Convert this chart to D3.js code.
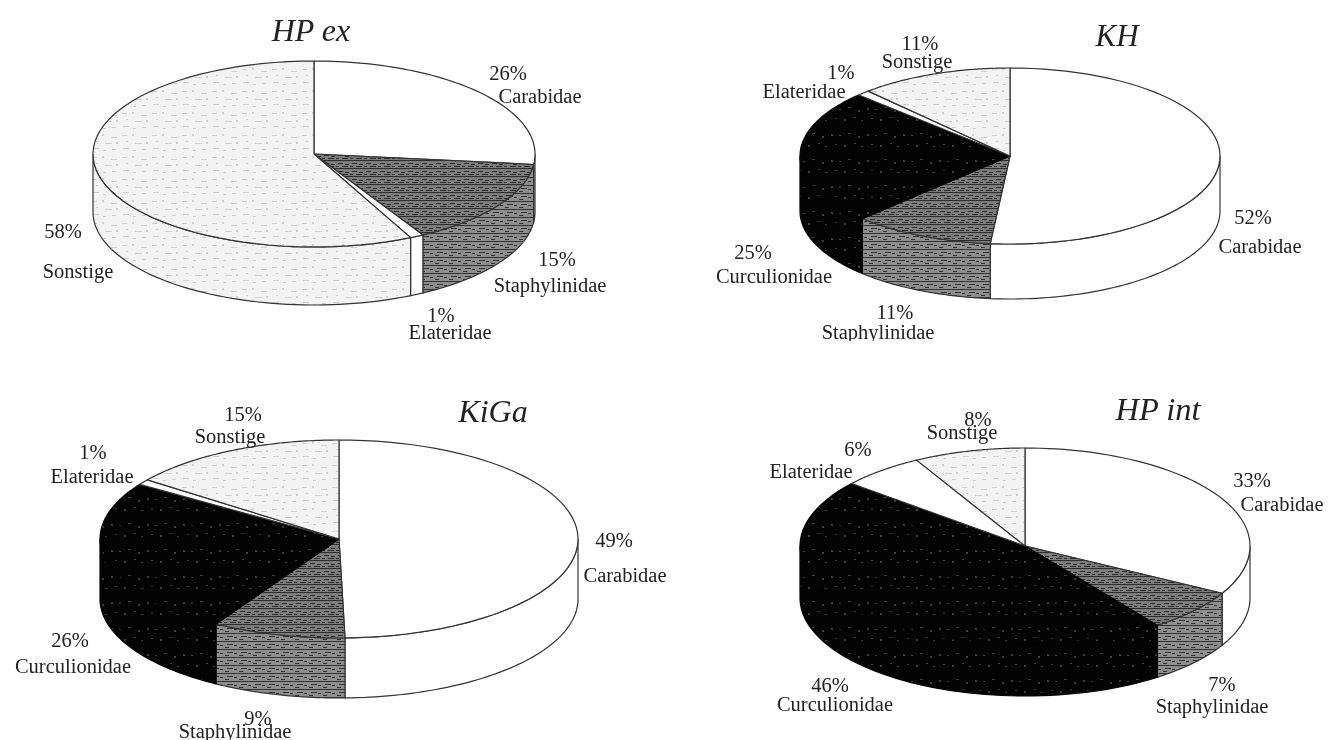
<!DOCTYPE html>
<html><head><meta charset="utf-8">
<script src="https://cdn.jsdelivr.net/npm/d3@7/dist/d3.min.js"></script>
<style>html,body{margin:0;background:#fff}svg{display:block;filter:blur(0.55px)}text{font-family:"Liberation Serif",serif;fill:#222}</style>
</head><body><script>
const hpExCategories=["Carabidae","Staphylinidae","Elateridae","Sonstige"];
const hpExValues=[26,15,1,58];            // printed percentages
const hpExShares=[26.8,15,1,57.2];        // slice sizes as drawn in the picture
const khCategories=["Carabidae","Staphylinidae","Curculionidae","Elateridae","Sonstige"];
const khValues=[52,11,25,1,11];
const khShares=[51.5,10.9,24.8,1,11.8];
const kigaCategories=["Carabidae","Staphylinidae","Curculionidae","Elateridae","Sonstige"];
const kigaValues=[49,9,26,1,15];
const kigaShares=[49.6,9,25.7,0.9,14.8];
const hpIntCategories=["Carabidae","Staphylinidae","Curculionidae","Elateridae","Sonstige"];
const hpIntValues=[33,7,46,6,8];
const hpIntShares=[33,7,46,6,8];

const layouts=[
 {title:"HP ex",cats:hpExCategories,vals:hpExValues,shares:hpExShares,cx:314,cy:154,rx:221,ry:93,d:58,tx:311,ty:41,fs:32,clip:341,
  lab:[[508,80,540,103],[557,266,550,292],[441,322,450,339],[63,238,78,278]]},
 {title:"KH",cats:khCategories,vals:khValues,shares:khShares,cx:1010,cy:156,rx:210,ry:88,d:55,tx:1117,ty:46,fs:31,clip:341,
  lab:[[1253,224,1260,253],[895,319,878,339],[753,259,774,283],[841,79,804,98],[920,50,917,68]]},
 {title:"KiGa",cats:kigaCategories,vals:kigaValues,shares:kigaShares,cx:339,cy:539,rx:239,ry:99,d:60,tx:493,ty:422,fs:32,clip:740,
  lab:[[614,547,625,582],[258,725,235,738],[70,647,73,673],[93,459,92,483],[243,421,230,443]]},
 {title:"HP int",cats:hpIntCategories,vals:hpIntValues,shares:hpIntShares,cx:1025,cy:546,rx:225,ry:98,d:52,tx:1158,ty:420,fs:32.5,clip:740,
  lab:[[1252,487,1282,511],[1222,691,1212,713],[830,692,835,711],[858,456,811,478],[978,426,962,439]]}
];

const svg=d3.select("body").append("svg").attr("width",1336).attr("height",740);
const defs=svg.append("defs");
function tex(id,w,h,bg,color,marks){
  const p=defs.append("pattern").attr("id",id).attr("patternUnits","userSpaceOnUse").attr("width",w).attr("height",h);
  p.append("rect").attr("width",w).attr("height",h).attr("fill",bg);
  p.selectAll("rect.m").data(marks).join("rect").attr("class","m")
    .attr("x",d=>d[0]).attr("y",d=>d[1]).attr("width",d=>d[2]).attr("height",d=>d[3]).attr("fill",color);
}
tex("t-staph",14,8,"#7c7c7c","#2c2c2c",[[0,0,14,1],[2,3,5,1],[9,4,4,1],[0,6,3,1],[6,6,6,1]]);
tex("t-stapw",14,8,"#8e8e8e","#333",[[0,1,14,1],[3,4,6,1],[10,5,3,1],[1,7,4,1]]);
tex("t-sonst",30,22,"#f3f3f3","#cfcfcf",[[2,3,5,1],[12,2,2,2],[21,5,6,1],[6,9,2,1],[15,11,7,1],[26,10,2,2],[3,16,6,1],[13,18,3,1],[22,17,4,1]]);
tex("t-curc",36,26,"#030303","#3f3f3f",[[3,4,2,2],[11,5,2,1],[20,3,3,1],[30,6,2,2],[7,14,2,1],[16,15,2,2],[26,13,2,1],[33,16,2,1]]);
const fills={Carabidae:"#fff",Staphylinidae:"url(#t-staph)",Curculionidae:"url(#t-curc)",Elateridae:"#fff",Sonstige:"url(#t-sonst)"};
const sideFills={...fills,Staphylinidae:"url(#t-stapw)"};
const strokes=c=>c==="Curculionidae"?"#030303":"#333";

const pie=d3.pie().sort(null);
layouts.forEach((L,n)=>{
  const clipId="clip"+n;
  defs.append("clipPath").attr("id",clipId).append("rect").attr("x",0).attr("y",0).attr("width",1336).attr("height",L.clip);
  const g=svg.append("g").attr("clip-path",`url(#${clipId})`);
  const px=t=>L.cx+L.rx*Math.sin(t), py=t=>L.cy-L.ry*Math.cos(t);
  const line=d3.line();
  const arcPts=(a,b,dy=0)=>d3.range(0,61).map(i=>{const t=a+(b-a)*i/60;return [px(t),py(t)+dy];});
  const arcs=pie(L.shares);
  arcs.forEach((a,i)=>{
    const s=Math.max(a.startAngle,Math.PI/2), e=Math.min(a.endAngle,Math.PI*1.5);
    if(e<=s) return;
    const pts=arcPts(s,e).concat(arcPts(s,e,L.d).reverse());
    g.append("path").attr("d",line(pts)+"Z").attr("fill",sideFills[L.cats[i]]).attr("stroke",strokes(L.cats[i])).attr("stroke-width",1.2);
  });
  arcs.forEach((a,i)=>{
    const pts=[[L.cx,L.cy]].concat(arcPts(a.startAngle,a.endAngle));
    g.append("path").attr("d",line(pts)+"Z").attr("fill",fills[L.cats[i]]).attr("stroke",strokes(L.cats[i])).attr("stroke-width",1.2).attr("stroke-linejoin","round");
  });
  g.append("text").attr("x",L.tx).attr("y",L.ty).attr("text-anchor","middle").attr("font-size",L.fs).attr("font-style","italic").text(L.title);
  L.cats.forEach((c,i)=>{
    const [x1,y1,x2,y2]=L.lab[i];
    g.append("text").attr("x",x1).attr("y",y1).attr("text-anchor","middle").attr("font-size",20.5).text(L.vals[i]+"%");
    g.append("text").attr("x",x2).attr("y",y2).attr("text-anchor","middle").attr("font-size",20.5).text(c);
  });
});
</script></body></html>
